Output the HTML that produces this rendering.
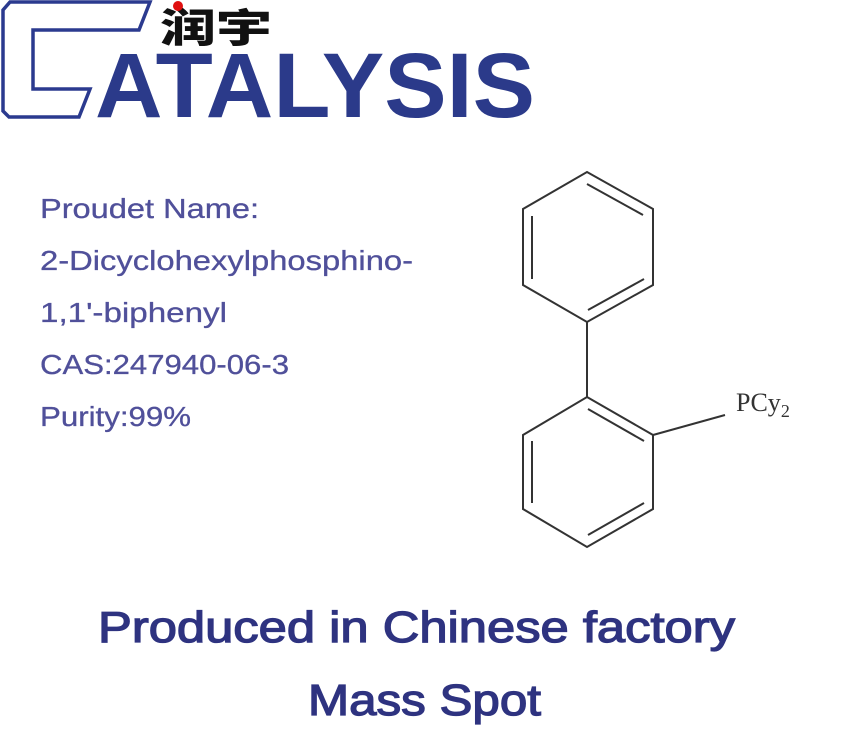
<!DOCTYPE html>
<html><head><meta charset="utf-8"><style>
html,body{margin:0;padding:0;background:#fff;width:850px;height:750px;overflow:hidden}
</style></head><body>
<svg width="850" height="750" xmlns="http://www.w3.org/2000/svg">
<rect width="850" height="750" fill="#fff"/>
<polygon points="3,10 10,2 150,2 139,30 33,30 33,89 90,89 79,117 9,117 3,111" fill="none" stroke="#2b3a8f" stroke-width="3.5"/>
<text x="95" y="117" font-family="Liberation Sans, sans-serif" font-weight="bold" font-size="92" fill="#2b3a8a" textLength="440" lengthAdjust="spacingAndGlyphs">ATALYSIS</text>
<text x="160" y="42" font-family="Noto Sans CJK SC, sans-serif" font-weight="900" font-size="40" fill="#111" textLength="112" lengthAdjust="spacingAndGlyphs">润宇</text>
<circle cx="178" cy="6" r="5" fill="#e01010"/>
<g font-family="Liberation Sans, sans-serif" font-size="28" fill="#50509a" stroke="#50509a" stroke-width="0.3">
<text x="40" y="218" textLength="219" lengthAdjust="spacingAndGlyphs">Proudet Name:</text>
<text x="40" y="270" textLength="373" lengthAdjust="spacingAndGlyphs">2-Dicyclohexylphosphino-</text>
<text x="40" y="322" textLength="187" lengthAdjust="spacingAndGlyphs">1,1'-biphenyl</text>
<text x="40" y="374" textLength="249" lengthAdjust="spacingAndGlyphs">CAS:247940-06-3</text>
<text x="40" y="426" textLength="151" lengthAdjust="spacingAndGlyphs">Purity:99%</text>
</g>
<g stroke="#333" stroke-width="2" fill="none">
<polygon points="587,172 653,209 653,285 587,322 523,285 523,209"/>
<line x1="587" y1="184" x2="643" y2="215"/>
<line x1="532" y1="216" x2="532" y2="279"/>
<line x1="588" y1="310" x2="644" y2="279"/>
<line x1="587" y1="322" x2="587" y2="397"/>
<polygon points="587,397 653,435 653,509 587,547 523,509 523,435"/>
<line x1="588" y1="409" x2="644" y2="441"/>
<line x1="532" y1="441" x2="532" y2="503"/>
<line x1="588" y1="535" x2="644" y2="503"/>
<line x1="653" y1="435" x2="725" y2="415"/>
</g>
<text x="736" y="411" font-family="Liberation Serif, serif" font-size="26" fill="#333">PCy<tspan font-size="18" dy="6">2</tspan></text>
<g font-family="Liberation Sans, sans-serif" font-size="44" fill="#2e3380" stroke="#2e3380" stroke-width="1.3">
<text x="98" y="642" textLength="637" lengthAdjust="spacingAndGlyphs">Produced in Chinese factory</text>
<text x="308" y="715" textLength="233" lengthAdjust="spacingAndGlyphs">Mass Spot</text>
</g>
</svg>
</body></html>
